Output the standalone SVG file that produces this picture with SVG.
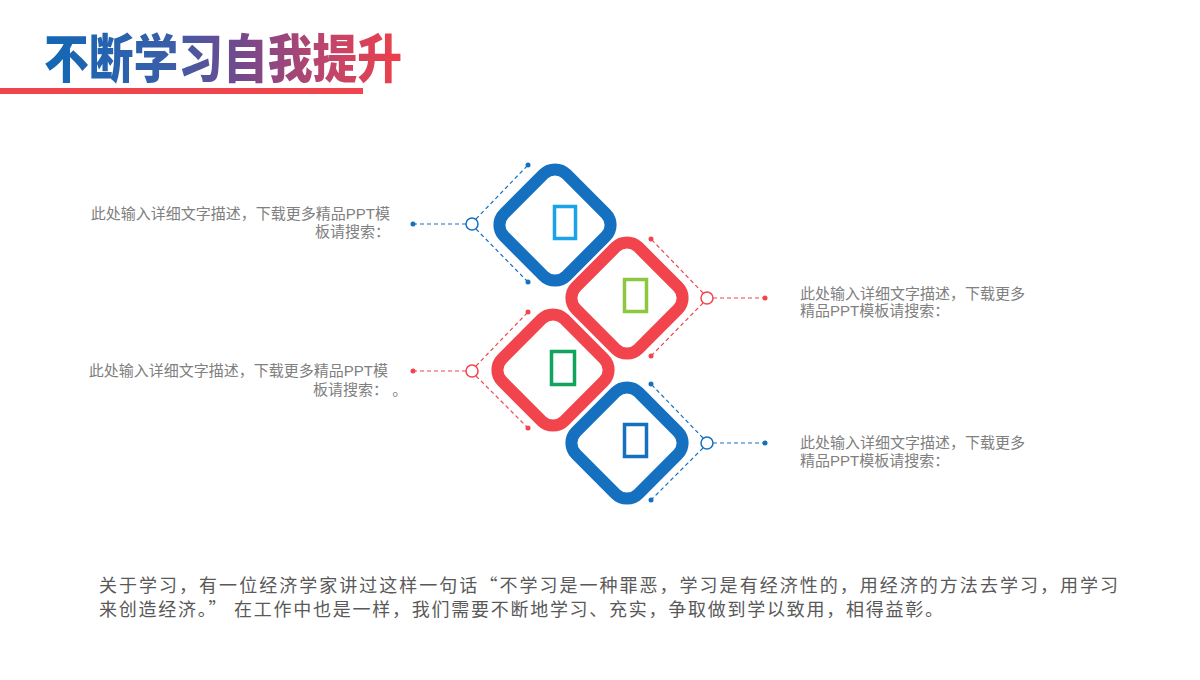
<svg xmlns="http://www.w3.org/2000/svg" width="1200" height="680" viewBox="0 0 1200 680">
<defs>
<linearGradient id="tg" x1="44" y1="0" x2="402" y2="0" gradientUnits="userSpaceOnUse">
<stop offset="0" stop-color="#1168b5"/>
<stop offset="0.35" stop-color="#3a5ea8"/>
<stop offset="0.55" stop-color="#74498c"/>
<stop offset="0.8" stop-color="#c2456a"/>
<stop offset="1" stop-color="#ef3f48"/>
</linearGradient>
<style>
.small{font-family:"Liberation Sans","Noto Sans CJK SC",sans-serif;font-size:15px;fill:#808080}
.body{font-family:"Noto Sans CJK SC",sans-serif;font-size:18px;fill:#595959}
.dia{fill:#fff;stroke-width:12}
.blue{stroke:#1570bf}
.red{stroke:#f2444c}
.dash{fill:none;stroke-width:1.2;stroke-dasharray:4 3}
.ring{fill:#fff;stroke-width:1.5}
.ico{fill:none;stroke-width:3.5}
</style>
</defs>
<rect width="1200" height="680" fill="#fff"/>
<g id="title">
<text x="44" y="78" font-family="'Noto Sans CJK SC',sans-serif" font-weight="900" font-size="52" fill="url(#tg)" textLength="358" lengthAdjust="spacingAndGlyphs">不断学习自我提升</text>
<rect x="0" y="88" width="363" height="6" fill="#f0454d"/>
</g>
<g id="connectors">
<g stroke="#1570bf">
<line class="dash" x1="413" y1="224" x2="466" y2="224"/>
<line class="dash" x1="476" y1="219" x2="528" y2="165"/>
<line class="dash" x1="476" y1="229" x2="528" y2="282"/>
<circle cx="472" cy="224" r="6" class="ring"/>
<circle cx="413" cy="224" r="2.5" fill="#1570bf" stroke="none"/>
<circle cx="528" cy="165" r="2.5" fill="#1570bf" stroke="none"/>
<circle cx="528" cy="282" r="2.5" fill="#1570bf" stroke="none"/>
</g>
<g stroke="#f2444c">
<line class="dash" x1="713" y1="298" x2="765" y2="298"/>
<line class="dash" x1="703" y1="293" x2="651" y2="239"/>
<line class="dash" x1="703" y1="303" x2="651" y2="356"/>
<circle cx="707" cy="298" r="6" class="ring"/>
<circle cx="765" cy="298" r="2.5" fill="#f2444c" stroke="none"/>
<circle cx="651" cy="239" r="2.5" fill="#f2444c" stroke="none"/>
<circle cx="651" cy="356" r="2.5" fill="#f2444c" stroke="none"/>
</g>
<g stroke="#f2444c">
<line class="dash" x1="413" y1="371" x2="466" y2="371"/>
<line class="dash" x1="476" y1="366" x2="528" y2="312"/>
<line class="dash" x1="476" y1="376" x2="528" y2="428"/>
<circle cx="472" cy="371" r="6" class="ring"/>
<circle cx="413" cy="371" r="2.5" fill="#f2444c" stroke="none"/>
<circle cx="528" cy="312" r="2.5" fill="#f2444c" stroke="none"/>
<circle cx="528" cy="428" r="2.5" fill="#f2444c" stroke="none"/>
</g>
<g stroke="#1570bf">
<line class="dash" x1="713" y1="443" x2="765" y2="443"/>
<line class="dash" x1="703" y1="438" x2="651" y2="384"/>
<line class="dash" x1="703" y1="448" x2="651" y2="500"/>
<circle cx="707" cy="443" r="6" class="ring"/>
<circle cx="765" cy="443" r="2.5" fill="#1570bf" stroke="none"/>
<circle cx="651" cy="384" r="2.5" fill="#1570bf" stroke="none"/>
<circle cx="651" cy="500" r="2.5" fill="#1570bf" stroke="none"/>
</g>
</g>
<g id="node1">
<rect class="dia blue" x="-44" y="-44" width="88" height="88" rx="16" transform="translate(555,225) rotate(45)"/>
<rect class="ico" x="554.5" y="206.5" width="21" height="32" stroke="#1aa3e8"/>
</g>
<g id="node2">
<rect class="dia red" x="-44" y="-44" width="88" height="88" rx="16" transform="translate(627,298) rotate(45)"/>
<rect class="ico" x="624.5" y="279.5" width="22" height="32" stroke="#8dc63f"/>
</g>
<g id="node3">
<rect class="dia red" x="-44" y="-44" width="88" height="88" rx="16" transform="translate(553,370) rotate(45)"/>
<rect class="ico" x="551.5" y="351.5" width="23" height="33" stroke="#0fa35c"/>
</g>
<g id="node4">
<rect class="dia blue" x="-44" y="-44" width="88" height="88" rx="16" transform="translate(627,443) rotate(45)"/>
<rect class="ico" x="624.5" y="424.5" width="22" height="32" stroke="#1570bf"/>
</g>
<g id="text1">
<text class="small" x="390" y="219" text-anchor="end">此处输入详细文字描述，下载更多精品PPT模</text>
<text class="small" x="390" y="237" text-anchor="end">板请搜索：</text>
</g>
<g id="text2">
<text class="small" x="800" y="299">此处输入详细文字描述，下载更多</text>
<text class="small" x="800" y="316">精品PPT模板请搜索：</text>
</g>
<g id="text3">
<text class="small" x="388" y="376" text-anchor="end">此处输入详细文字描述，下载更多精品PPT模</text>
<text class="small" x="313" y="395">板请搜索： 。</text>
</g>
<g id="text4">
<text class="small" x="800" y="448">此处输入详细文字描述，下载更多</text>
<text class="small" x="800" y="466">精品PPT模板请搜索：</text>
</g>
<g id="paragraph">
<text class="body" x="99" y="592" textLength="1019" lengthAdjust="spacing">关于学习，有一位经济学家讲过这样一句话“不学习是一种罪恶，学习是有经济性的，用经济的方法去学习，用学习</text>
<text class="body" x="99" y="616" textLength="844" lengthAdjust="spacing">来创造经济。” 在工作中也是一样，我们需要不断地学习、充实，争取做到学以致用，相得益彰。</text>
</g>
</svg>
